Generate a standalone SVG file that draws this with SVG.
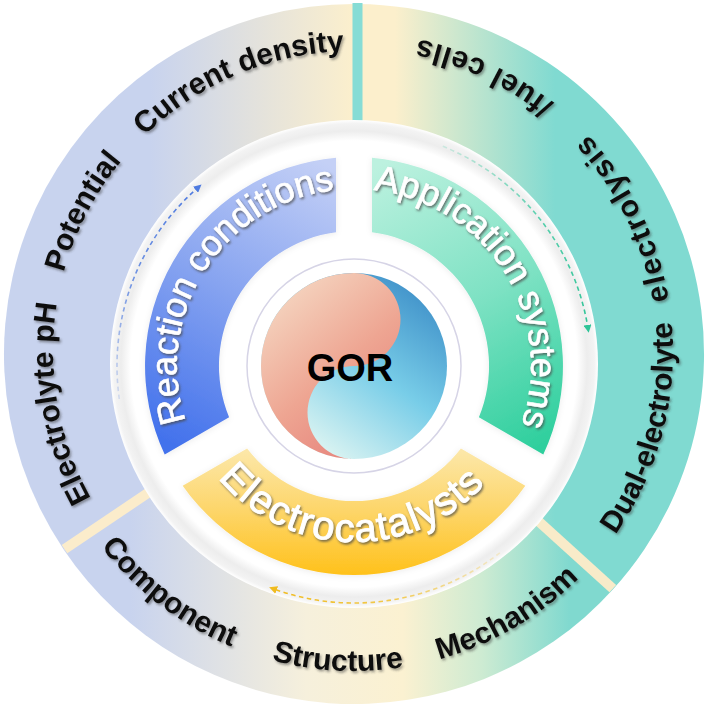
<svg xmlns="http://www.w3.org/2000/svg" width="709" height="710" viewBox="0 0 709 710">
  <defs>
    <style>
      .outer-label { font-family: "Liberation Sans", Arial, sans-serif; font-weight: bold; font-size: 30px; fill: #111; filter: url(#darkShadow); }
      .ring-label { font-family: "Liberation Sans", Arial, sans-serif; font-size: 36px; fill: #ffffff; stroke: #ffffff; stroke-width: 0.6px; filter: url(#whiteShadow); }
      .dash { fill: none; stroke-width: 1.6; stroke-dasharray: 4.5 3.5; }
      .divider { stroke-width: 10; stroke-linecap: butt; }
    </style>
    <filter id="darkShadow" x="-10%" y="-10%" width="120%" height="130%">
      <feDropShadow dx="1.5" dy="2" stdDeviation="1.2" flood-color="#333333" flood-opacity="0.45"/>
    </filter>
    <filter id="whiteShadow" x="-10%" y="-10%" width="120%" height="130%">
      <feDropShadow dx="1.3" dy="1.8" stdDeviation="1.1" flood-color="#4a4a4a" flood-opacity="0.75"/>
    </filter>
    <filter id="softGlow" x="-10%" y="-10%" width="120%" height="120%">
      <feDropShadow dx="0" dy="1" stdDeviation="3" flood-color="#000000" flood-opacity="0.08"/>
    </filter>

    <linearGradient id="gLeft" gradientUnits="userSpaceOnUse" x1="150" y1="0" x2="352" y2="0">
      <stop offset="0" stop-color="#c8d3ee"/>
      <stop offset="1" stop-color="#fbefcd"/>
    </linearGradient>
    <linearGradient id="gRight" gradientUnits="userSpaceOnUse" x1="395" y1="0" x2="555" y2="0">
      <stop offset="0" stop-color="#fcefcc"/>
      <stop offset="1" stop-color="#80dad1"/>
    </linearGradient>
    <linearGradient id="gBottom" gradientUnits="userSpaceOnUse" x1="130" y1="0" x2="570" y2="0">
      <stop offset="0" stop-color="#c8d3ee"/>
      <stop offset="0.4" stop-color="#f6f0dc"/>
      <stop offset="0.62" stop-color="#fbf1d1"/>
      <stop offset="0.8" stop-color="#cdebd2"/>
      <stop offset="1" stop-color="#80d9cf"/>
    </linearGradient>

    <radialGradient id="gDisc" gradientUnits="userSpaceOnUse" cx="354" cy="364" r="244">
      <stop offset="0" stop-color="#ffffff"/>
      <stop offset="0.915" stop-color="#ffffff"/>
      <stop offset="0.955" stop-color="#ededed"/>
      <stop offset="0.985" stop-color="#f3f3f3"/>
      <stop offset="1" stop-color="#ffffff"/>
    </radialGradient>

    <linearGradient id="gBlue" gradientUnits="userSpaceOnUse" x1="330" y1="165" x2="175" y2="445">
      <stop offset="0" stop-color="#c4d0f6"/>
      <stop offset="0.5" stop-color="#86a3f0"/>
      <stop offset="1" stop-color="#4372ec"/>
    </linearGradient>
    <linearGradient id="gGreen" gradientUnits="userSpaceOnUse" x1="380" y1="165" x2="535" y2="450">
      <stop offset="0" stop-color="#bcf1df"/>
      <stop offset="0.5" stop-color="#7fe2c4"/>
      <stop offset="1" stop-color="#2ecf9d"/>
    </linearGradient>
    <linearGradient id="gYellow" gradientUnits="userSpaceOnUse" x1="0" y1="448" x2="0" y2="576">
      <stop offset="0" stop-color="#fce8ab"/>
      <stop offset="0.5" stop-color="#fdd568"/>
      <stop offset="1" stop-color="#ffc11a"/>
    </linearGradient>

    <linearGradient id="gPink" gradientUnits="userSpaceOnUse" x1="280" y1="285" x2="400" y2="425">
      <stop offset="0" stop-color="#f5d7c2"/>
      <stop offset="0.55" stop-color="#eea592"/>
      <stop offset="1" stop-color="#e6827b"/>
    </linearGradient>
    <linearGradient id="gCyan" gradientUnits="userSpaceOnUse" x1="430" y1="290" x2="315" y2="450">
      <stop offset="0" stop-color="#3e8fc8"/>
      <stop offset="0.5" stop-color="#78cde8"/>
      <stop offset="1" stop-color="#def5f2"/>
    </linearGradient>

    <linearGradient id="fadeBlue" gradientUnits="userSpaceOnUse" x1="119" y1="399" x2="198" y2="187">
      <stop offset="0" stop-color="#5b84e0" stop-opacity="0.2"/>
      <stop offset="0.5" stop-color="#5b84e0" stop-opacity="0.85"/>
      <stop offset="1" stop-color="#4f7be0" stop-opacity="1"/>
    </linearGradient>
    <linearGradient id="fadeGreen" gradientUnits="userSpaceOnUse" x1="443" y1="146" x2="588" y2="329">
      <stop offset="0" stop-color="#3cc9a0" stop-opacity="0.2"/>
      <stop offset="0.5" stop-color="#3cc9a0" stop-opacity="0.85"/>
      <stop offset="1" stop-color="#2fc497" stop-opacity="1"/>
    </linearGradient>
    <linearGradient id="fadeYellow" gradientUnits="userSpaceOnUse" x1="500" y1="553" x2="273" y2="589">
      <stop offset="0" stop-color="#f2c230" stop-opacity="0.2"/>
      <stop offset="0.5" stop-color="#f2c230" stop-opacity="0.85"/>
      <stop offset="1" stop-color="#f0bb1e" stop-opacity="1"/>
    </linearGradient>

    <marker id="arrBlue" viewBox="0 0 10 10" refX="5" refY="5" markerWidth="8" markerHeight="8" markerUnits="userSpaceOnUse" orient="auto">
      <path d="M0,0 L10,5 L0,10 Z" fill="#4f7be0"/>
    </marker>
    <marker id="arrGreen" viewBox="0 0 10 10" refX="5" refY="5" markerWidth="8" markerHeight="8" markerUnits="userSpaceOnUse" orient="auto">
      <path d="M0,0 L10,5 L0,10 Z" fill="#2fc497"/>
    </marker>
    <marker id="arrYellow" viewBox="0 0 10 10" refX="5" refY="5" markerWidth="8" markerHeight="8" markerUnits="userSpaceOnUse" orient="auto">
      <path d="M0,0 L10,5 L0,10 Z" fill="#f0bb1e"/>
    </marker>

    <!-- text paths: outer ring (center 354,352) -->
    <path id="tpElectrolyte" d="M180.9,598.2 A301,301 0 0 1 107.8,178.9"/>
    <path id="tpPotential" d="M67.1,443.0 A301,301 0 0 1 263.0,65.1"/>
    <path id="tpCurrent" d="M74.9,239.2 A301,301 0 0 1 466.8,72.9"/>
    <path id="tpDual" d="M514.7,627.6 A319,319 0 0 0 629.6,191.3"/>
    <path id="tpElectrolysis" d="M656.2,454.3 A319,319 0 0 0 456.3,49.8"/>
    <path id="tpFuel" d="M654.0,243.4 A319,319 0 0 0 245.4,52.0"/>
    <path id="tpComponent" d="M37.7,393.6 A319,319 0 0 0 395.6,668.3"/>
    <path id="tpStructure" d="M116.9,565.4 A319,319 0 0 0 567.4,589.1"/>
    <path id="tpMechanism" d="M272.5,660.4 A319,319 0 0 0 662.4,433.5"/>
    <!-- text paths: middle ring (center 354,366) -->
    <path id="tpReaction" d="M213.1,473.1 A177,177 0 0 1 393.1,193.4"/>
    <path id="tpApplication" d="M316.6,193.0 A177,177 0 0 1 493.9,474.5"/>
    <path id="tpElectrocat" d="M187.6,423.3 A176,176 0 0 0 518.3,429.1"/>
  </defs>

  <rect x="0" y="0" width="709" height="710" fill="#ffffff"/>

  <!-- Outer ring sectors -->
  <g id="outer-ring">
    <path id="outer-left" d="M354,354 L63.8,549.7 A350,350 0 0 1 357.5,4 Z" fill="url(#gLeft)"/>
    <path id="outer-right" d="M354,354 L357.5,4 A350,350 0 0 1 613.3,589.1 Z" fill="url(#gRight)"/>
    <path id="outer-bottom" d="M354,354 L613.3,589.1 A350,350 0 0 1 63.8,549.7 Z" fill="url(#gBottom)"/>
    <line class="divider" x1="357.5" y1="3" x2="357.5" y2="140" stroke="#86dcd5" stroke-width="11"/>
    <line class="divider" x1="354" y1="354" x2="64.5" y2="549.2" stroke="#fbeccb"/>
    <line class="divider" x1="354" y1="354" x2="612.8" y2="588.6" stroke="#f8ebc9"/>
  </g>

  <!-- White disc -->
  <circle id="white-disc" cx="354" cy="364" r="244" fill="url(#gDisc)"/>

  <!-- Outer ring labels -->
  <g id="outer-labels">
    <g id="label-electrolyte-ph"><text class="outer-label" text-anchor="middle"><textPath href="#tpElectrolyte" startOffset="50%">Electrolyte pH</textPath></text></g>
    <g id="label-potential"><text class="outer-label" text-anchor="middle"><textPath href="#tpPotential" startOffset="50%">Potential</textPath></text></g>
    <g id="label-current-density"><text class="outer-label" text-anchor="middle"><textPath href="#tpCurrent" startOffset="50%">Current density</textPath></text></g>
    <g id="label-dual-electrolyte"><text class="outer-label" text-anchor="middle"><textPath href="#tpDual" startOffset="50%">Dual-electrolyte</textPath></text></g>
    <g id="label-electrolysis"><text class="outer-label" text-anchor="middle" letter-spacing="2"><textPath href="#tpElectrolysis" startOffset="50%">electrolysis</textPath></text></g>
    <g id="label-fuel-cells"><text class="outer-label" text-anchor="middle" letter-spacing="1.5"><textPath href="#tpFuel" startOffset="50%">/fuel cells</textPath></text></g>
    <g id="label-component"><text class="outer-label" text-anchor="middle"><textPath href="#tpComponent" startOffset="50%">Component</textPath></text></g>
    <g id="label-structure"><text class="outer-label" text-anchor="middle"><textPath href="#tpStructure" startOffset="50%">Structure</textPath></text></g>
    <g id="label-mechanism"><text class="outer-label" text-anchor="middle"><textPath href="#tpMechanism" startOffset="50%">Mechanism</textPath></text></g>
  </g>

  <!-- Middle ring nodes -->
  <g id="node-reaction-conditions">
    <path d="M164.7,454.5 A209,209 0 0 1 336,157.8 L336,232.2 A135,135 0 0 0 229.1,417.3 Z" fill="url(#gBlue)" filter="url(#softGlow)"/>
    <text class="ring-label" text-anchor="middle"><textPath href="#tpReaction" startOffset="50%">Reaction conditions</textPath></text>
  </g>
  <g id="node-application-systems">
    <path d="M372,157.8 A209,209 0 0 1 543.3,454.5 L478.9,417.3 A135,135 0 0 0 372,232.2 Z" fill="url(#gGreen)" filter="url(#softGlow)"/>
    <text class="ring-label" text-anchor="middle"><textPath href="#tpApplication" startOffset="50%">Application systems</textPath></text>
  </g>
  <g id="node-electrocatalysts">
    <path d="M525.3,485.7 A209,209 0 0 1 182.7,485.7 L247.1,448.5 A135,135 0 0 0 460.9,448.5 Z" fill="url(#gYellow)" filter="url(#softGlow)"/>
    <text class="ring-label" text-anchor="middle" letter-spacing="1.5" style="font-size:40px;stroke-width:0.9px"><textPath href="#tpElectrocat" startOffset="50%">Electrocatalysts</textPath></text>
  </g>

  <!-- Center GOR -->
  <g id="node-gor">
    <circle cx="354" cy="366" r="107" fill="#ffffff" stroke="#d6d4e6" stroke-width="1.5"/>
    <circle cx="354" cy="366" r="93" fill="url(#gCyan)"/>
    <path d="M354,273 A46.5,46.5 0 0 1 354,366 A46.5,46.5 0 0 0 354,459 A93,93 0 0 1 354,273 Z" fill="url(#gPink)"/>
    <text x="350" y="381" text-anchor="middle" font-family="Liberation Sans, Arial, sans-serif" font-weight="bold" font-size="38" fill="#000000">GOR</text>
  </g>

  <!-- Connectors -->
  <g id="connectors">
    <path class="dash" d="M119.3,399.0 A237,237 0 0 1 198.5,187.1" stroke="url(#fadeBlue)" marker-end="url(#arrBlue)"/>
    <path class="dash" d="M442.8,146.3 A237,237 0 0 1 588.1,328.9" stroke="url(#fadeGreen)" marker-end="url(#arrGreen)"/>
    <path class="dash" d="M499.9,552.8 A237,237 0 0 1 272.9,588.7" stroke="url(#fadeYellow)" marker-end="url(#arrYellow)"/>
  </g>
</svg>
